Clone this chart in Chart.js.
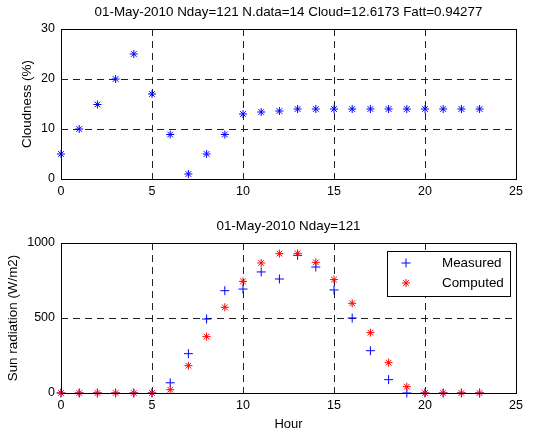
<!DOCTYPE html>
<html>
<head>
<meta charset="utf-8">
<script src="https://cdn.jsdelivr.net/npm/chart.js@4.4.0/dist/chart.umd.min.js"></script>
<style>
  body { margin: 0; background: #fff; }
  .panel { position: absolute; left: 0; width: 540px; height: 217px; }
</style>
</head>
<body>
<div class="panel" style="top:0"><canvas id="chartCloud"></canvas></div>
<div class="panel" style="top:217px"><canvas id="chartRad"></canvas></div>
<script>
// --- data ---
const hours = [0, 1, 2, 3, 4, 5, 6, 7, 8, 9, 10, 11, 12, 13, 14, 15, 16, 17, 18, 19, 20, 21, 22, 23];
const cloudness = [5, 10, 14.9, 20, 25, 17, 8.9, 1, 5, 8.9, 13, 13.4, 13.6, 14, 14, 14, 14, 14, 14, 14, 14, 14, 14, 14];
const measured = [0, 0, 0, 0, 0, 0, 68, 262, 493, 682, 693, 807, 760, 918, 840, 687, 500, 282, 89, 0, 0, 0, 0, 0];
const computed = [0, 0, 0, 0, 0, 0, 22, 182, 376, 571, 744, 867, 929, 931, 871, 756, 598, 402, 202, 42, 0, 0, 0, 0];
const hourTicks = [0, 5, 10, 15, 20, 25];
const cloudTicks = [0, 10, 20, 30];
const radTicks = [0, 500, 1000];

const FONT = 'Arial, "Liberation Sans", sans-serif';
const BLUE = '#0000ff', RED = '#ff0000';

const toPoints = (xs, ys) => xs.map((x, i) => ({ x: x, y: ys[i] }));

// box, title and legend in matlab style
const matlabFrame = {
  id: 'matlabFrame',
  afterDraw(chart, args, opts) {
    const { ctx, chartArea: a } = chart;
    ctx.save();
    ctx.strokeStyle = '#000';
    ctx.lineWidth = 1;
    ctx.strokeRect(Math.round(a.left) + 0.5, Math.round(a.top) + 0.5, Math.round(a.right - a.left), Math.round(a.bottom - a.top));
    ctx.fillStyle = '#000';
    ctx.font = '13.4px ' + FONT;
    ctx.textAlign = 'center';
    ctx.textBaseline = 'middle';
    ctx.fillText(opts.title, (a.left + a.right) / 2, opts.titleY);
    if (opts.legend) {
      const L = opts.legend;
      ctx.fillStyle = '#fff';
      ctx.fillRect(L.x, L.y, L.w, L.h);
      ctx.strokeStyle = '#000';
      ctx.strokeRect(L.x + 0.5, L.y + 0.5, L.w, L.h);
      ctx.font = '13.4px ' + FONT;
      ctx.textAlign = 'left';
      L.items.forEach((it, i) => {
        const y = L.y + L.rowTop + i * L.rowGap;
        ctx.strokeStyle = it.color;
        ctx.fillStyle = it.color;
        ctx.lineWidth = it.lw;
        Chart.helpers.drawPoint(ctx, { pointStyle: it.style, radius: it.r, borderWidth: it.lw }, L.x + L.markX, y);
        ctx.fillStyle = '#000';
        ctx.fillText(it.label, L.x + L.textX, y);
      });
    }
    ctx.restore();
  }
};

function axisX(height, showTitle) {
  return {
    type: 'linear', min: 0, max: 25,
    afterBuildTicks: s => { s.ticks = hourTicks.map(v => ({ value: v })); },
    afterFit: s => { s.height = height; },
    grid: { color: '#222', lineWidth: 1, drawTicks: false },
    border: { display: false, dash: [7, 5] },
    ticks: { color: '#000', font: { family: FONT, size: 12.5 }, padding: 5, maxRotation: 0, callback: v => String(v) },
    title: { display: showTitle, text: 'Hour', color: '#000', font: { family: FONT, size: 13 }, padding: { top: 0, bottom: 2 } }
  };
}

function axisY(max, ticks, label, titlePad) {
  return {
    type: 'linear', min: 0, max: max,
    afterBuildTicks: s => { s.ticks = ticks.map(v => ({ value: v })); },
    afterFit: s => { s.width = 61; },
    grid: { color: '#222', lineWidth: 1, drawTicks: false },
    border: { display: false, dash: [7, 5] },
    ticks: { color: '#000', font: { family: FONT, size: 12.5 }, padding: 6, callback: v => String(v) },
    title: { display: true, text: label, color: '#000', font: { family: FONT, size: 13.4 }, padding: { top: titlePad, bottom: 0 } }
  };
}

new Chart(document.getElementById('chartCloud'), {
  type: 'scatter',
  data: {
    datasets: [{
      label: 'Cloudness',
      data: toPoints(hours, cloudness),
      pointStyle: 'star', pointRadius: 4, pointBorderWidth: 1,
      borderColor: BLUE, backgroundColor: BLUE, showLine: false, clip: false
    }]
  },
  options: {
    responsive: true, maintainAspectRatio: false, animation: false,
    layout: { padding: { top: 29, right: 24, bottom: 0, left: 0 } },
    plugins: {
      legend: { display: false }, tooltip: { enabled: false },
      matlabFrame: { title: '01-May-2010 Nday=121 N.data=14 Cloud=12.6173 Fatt=0.94277', titleY: 12.5 }
    },
    scales: { x: axisX(38, false), y: axisY(30, cloudTicks, 'Cloudness (%)', 19) }
  },
  plugins: [matlabFrame]
});

new Chart(document.getElementById('chartRad'), {
  type: 'scatter',
  data: {
    datasets: [{
      label: 'Measured',
      data: toPoints(hours, measured),
      pointStyle: 'cross', pointRadius: 4.5, pointBorderWidth: 1,
      borderColor: BLUE, backgroundColor: BLUE, showLine: false, clip: false, order: 1
    }, {
      label: 'Computed',
      data: toPoints(hours, computed),
      pointStyle: 'star', pointRadius: 4, pointBorderWidth: 1,
      borderColor: RED, backgroundColor: RED, showLine: false, clip: false, order: 0
    }]
  },
  options: {
    responsive: true, maintainAspectRatio: false, animation: false,
    layout: { padding: { top: 26, right: 24, bottom: 0, left: 0 } },
    plugins: {
      legend: { display: false }, tooltip: { enabled: false },
      matlabFrame: {
        title: '01-May-2010 Nday=121', titleY: 9.5,
        legend: {
          x: 387, y: 34, w: 123, h: 45, rowTop: 12, rowGap: 20, markX: 19, textX: 55,
          items: [
            { label: 'Measured', color: BLUE, style: 'cross', r: 4.5, lw: 1 },
            { label: 'Computed', color: RED, style: 'star', r: 4, lw: 1 }
          ]
        }
      }
    },
    scales: { x: axisX(41, true), y: axisY(1000, radTicks, 'Sun radiation (W/m2)', 5) }
  },
  plugins: [matlabFrame]
});
</script>
</body>
</html>
